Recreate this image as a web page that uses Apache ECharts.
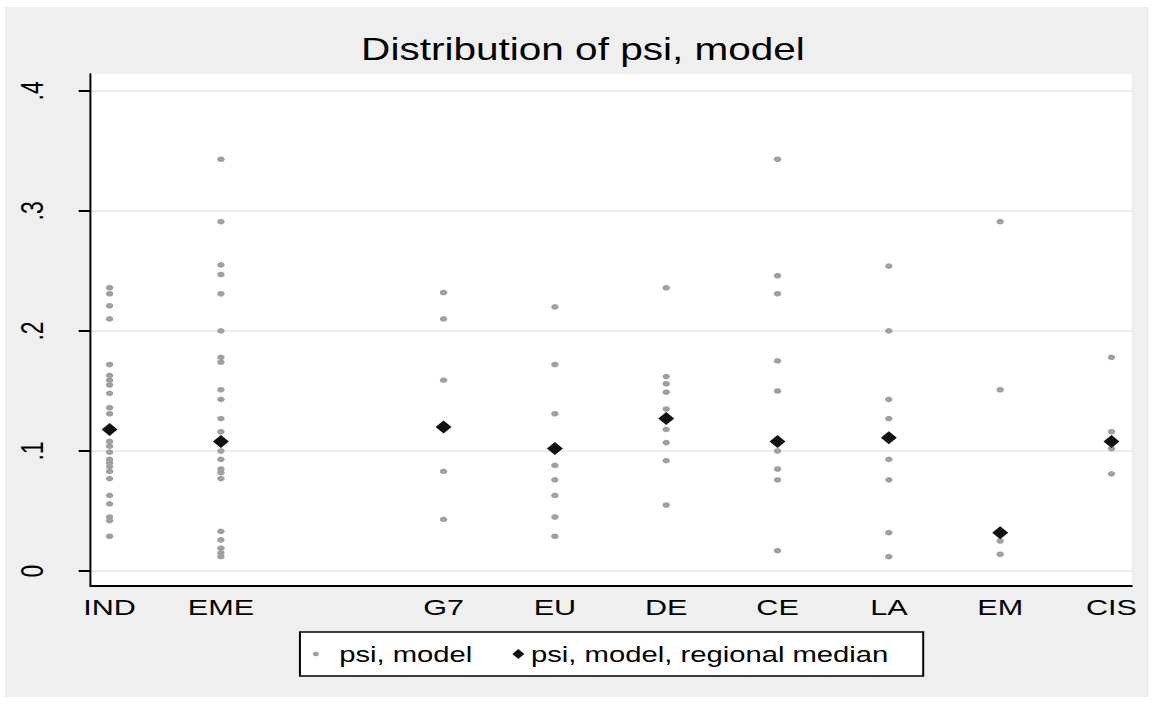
<!DOCTYPE html>
<html>
<head>
<meta charset="utf-8">
<script src="https://cdn.jsdelivr.net/npm/echarts@6/dist/echarts.min.js"></script>
<style>
html, body { margin: 0; padding: 0; width: 1154px; height: 704px; overflow: hidden; background: #ffffff; }
#frame { position: absolute; left: 5px; top: 7px; width: 1144px; height: 690px; background: #efefef; }
#chart { position: absolute; left: 0; top: 0; width: 868px; height: 704px; transform: scaleX(1.3295); transform-origin: 0 0; }
</style>
</head>
<body>
<div id="frame"></div>
<div id="chart"></div>
<script>
// ---- data ----
const regionNames = ['IND', 'EME', 'G7', 'EU', 'DE', 'CE', 'LA', 'EM', 'CIS'];
const regionCodes = [1, 2, 4, 5, 6, 7, 8, 9, 10];

const psiIND = [0.236, 0.231, 0.221, 0.210, 0.172, 0.163, 0.159, 0.155, 0.148, 0.136, 0.131, 0.108, 0.104, 0.099, 0.093, 0.090, 0.087, 0.083, 0.077, 0.063, 0.056, 0.045, 0.042, 0.029];
const psiEME = [0.343, 0.291, 0.255, 0.247, 0.231, 0.200, 0.178, 0.174, 0.151, 0.143, 0.127, 0.116, 0.100, 0.093, 0.085, 0.082, 0.077, 0.033, 0.026, 0.019, 0.015, 0.012];
const psiG7  = [0.232, 0.210, 0.159, 0.083, 0.043];
const psiEU  = [0.220, 0.172, 0.131, 0.088, 0.076, 0.063, 0.045, 0.029];
const psiDE  = [0.236, 0.162, 0.156, 0.149, 0.135, 0.118, 0.107, 0.092, 0.055];
const psiCE  = [0.343, 0.246, 0.231, 0.175, 0.150, 0.100, 0.085, 0.076, 0.017];
const psiLA  = [0.254, 0.200, 0.143, 0.127, 0.093, 0.076, 0.032, 0.012];
const psiEM  = [0.291, 0.151, 0.025, 0.014];
const psiCIS = [0.178, 0.116, 0.102, 0.081];

const regionalMedian = [0.118, 0.108, 0.120, 0.102, 0.127, 0.108, 0.111, 0.032, 0.108];

const yTickValues = [0, 0.1, 0.2, 0.3, 0.4];

// ---- build ----
const FONT = "'Liberation Sans', Arial, sans-serif";
const perRegion = [psiIND, psiEME, psiG7, psiEU, psiDE, psiCE, psiLA, psiEM, psiCIS];
const pointData = [];
perRegion.forEach((vals, i) => vals.forEach(v => pointData.push([regionCodes[i], v])));
const medianData = regionCodes.map((c, i) => [c, regionalMedian[i]]);

const chart = echarts.init(document.getElementById('chart'), null, { renderer: 'svg' });
chart.setOption({
  animation: false,
  backgroundColor: 'transparent',
  title: {
    text: 'Distribution of psi, model',
    left: 438.5, top: 34, padding: 0, textAlign: 'center',
    textStyle: { fontFamily: FONT, fontSize: 30.5, fontWeight: 'normal', color: '#000' }
  },
  grid: {
    left: 68.2, right: 16.9, top: 74, bottom: 118.3,
    show: true, backgroundColor: '#ffffff', borderWidth: 0
  },
  xAxis: {
    type: 'value', min: 0.83, max: 10.18,
    axisLine: { show: true, onZero: false, lineStyle: { color: '#000', width: 2 } },
    axisTick: { show: false },
    splitLine: { show: false },
    axisLabel: {
      customValues: regionCodes,
      formatter: v => regionNames[regionCodes.indexOf(v)] || '',
      margin: 10, fontSize: 23, fontFamily: FONT, color: '#000'
    }
  },
  yAxis: {
    type: 'value', min: -0.0122, max: 0.414,
    axisLine: { show: true, onZero: false, lineStyle: { color: '#000', width: 1.5 } },
    axisTick: { show: true, length: 9, customValues: yTickValues, lineStyle: { color: '#000', width: 2 } },
    splitLine: { show: true, lineStyle: { color: '#e6e6e6', width: 1.5 } },
    axisLabel: {
      customValues: yTickValues, rotate: 90, margin: 32,
      fontSize: 23, fontFamily: FONT, color: '#000',
      formatter: v => (Math.abs(v) < 1e-9 ? '0' : '.' + Math.round(v * 10))
    }
  },
  legend: {
    left: 225.6, top: 632, orient: 'horizontal',
    padding: [11, 26, 11, 7.5],
    itemGap: 30, itemWidth: 9, itemHeight: 10,
    backgroundColor: '#ffffff', borderColor: '#000', borderWidth: 1.5, borderRadius: 0,
    selectedMode: false,
    textStyle: { fontFamily: FONT, fontSize: 22, color: '#000', rich: { sp: { width: 8, fontSize: 22, fontFamily: FONT } } },
    formatter: name => (name === 'psi, model' ? '{sp| }' + name : name),
    data: [
      { name: 'psi, model', icon: 'path://M0,0M10,10M2.5,5a2.5,2.5 0 1,0 5,0a2.5,2.5 0 1,0 -5,0Z', itemStyle: { opacity: 1 } },
      { name: 'psi, model, regional median', icon: 'diamond', itemStyle: { opacity: 1 } }
    ]
  },
  series: [
    {
      name: 'psi, model', type: 'scatter', data: pointData,
      symbol: 'circle', symbolSize: 5.6,
      itemStyle: { color: '#a0a0a0', opacity: 1 }, z: 2
    },
    {
      name: 'psi, model, regional median', type: 'scatter', data: medianData,
      symbol: 'diamond', symbolSize: [12, 13],
      itemStyle: { color: '#111111', opacity: 1 }, z: 3
    }
  ]
});
</script>
</body>
</html>
